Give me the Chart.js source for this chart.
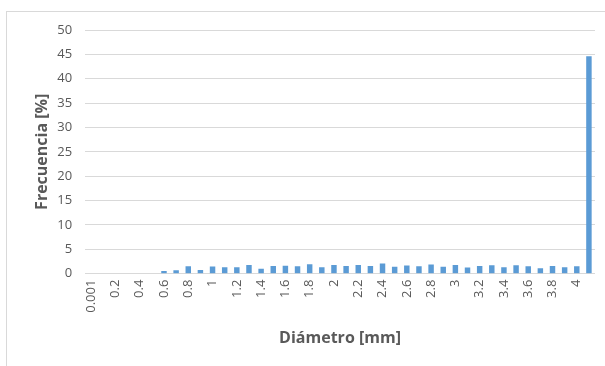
<!DOCTYPE html>
<html>
<head>
<meta charset="utf-8">
<script src="https://cdn.jsdelivr.net/npm/chart.js@4/dist/chart.umd.min.js"></script>
<style>
  html, body { margin: 0; padding: 0; background: #fff; overflow: hidden; }
  #frame { position: absolute; left: 6px; top: 11px; width: 640px; height: 400px;
           border-left: 1px solid #d9d9d9; border-top: 1px solid #d9d9d9; }
  #wrap { position: absolute; left: 0; top: 0; width: 605px; height: 366px; }
</style>
</head>
<body>
<div id="frame"></div>
<div id="wrap"><canvas id="c" width="605" height="366"></canvas></div>
<script>
// Diameter classes (mm) and frequency of each class (%)
const categories = ["0.001", "0.1", "0.2", "0.3", "0.4", "0.5", "0.6", "0.7", "0.8", "0.9",
  "1", "1.1", "1.2", "1.3", "1.4", "1.5", "1.6", "1.7", "1.8", "1.9",
  "2", "2.1", "2.2", "2.3", "2.4", "2.5", "2.6", "2.7", "2.8", "2.9",
  "3", "3.1", "3.2", "3.3", "3.4", "3.5", "3.6", "3.7", "3.8", "3.9",
  "4", "4.1"];
const frecuencia = [0, 0, 0, 0, 0, 0, 0.55, 0.7, 1.5, 0.75,
  1.45, 1.3, 1.3, 1.75, 1.0, 1.55, 1.6, 1.5, 1.95, 1.3,
  1.75, 1.55, 1.75, 1.55, 2.1, 1.4, 1.65, 1.5, 1.9, 1.4,
  1.75, 1.25, 1.55, 1.7, 1.3, 1.7, 1.5, 1.1, 1.55, 1.3,
  1.5, 44.6];
const yTicks = [0, 5, 10, 15, 20, 25, 30, 35, 40, 45, 50];

const gray = "#595959";
const font = "'Open Sans', sans-serif";

new Chart(document.getElementById("c"), {
  type: "bar",
  data: {
    labels: categories,
    datasets: [{
      data: frecuencia,
      backgroundColor: "#5b9bd5",
      borderWidth: 0,
      categoryPercentage: 1.0,
      barPercentage: 0.45
    }]
  },
  options: {
    responsive: false,
    animation: false,
    layout: { padding: { left: 33, right: 10, top: 30, bottom: 18 } },
    plugins: { legend: { display: false }, tooltip: { enabled: false } },
    scales: {
      x: {
        // the rotated labels need no extra room on the right
        afterFit: function (axis) { axis.paddingRight = 0; },
        grid: { display: false, drawTicks: false },
        border: { display: false },
        ticks: {
          autoSkip: false,
          maxRotation: 90,
          minRotation: 90,
          padding: 6,
          color: gray,
          font: { family: font, size: 13 },
          callback: function (v, i) { return i % 2 === 0 ? categories[i] : ""; }
        },
        title: {
          display: true,
          text: "Diámetro [mm]",
          color: gray,
          font: { family: font, size: 16, weight: "bold" },
          padding: { top: 10, bottom: 0 }
        }
      },
      y: {
        min: 0,
        max: 50,
        afterBuildTicks: function (axis) { axis.ticks = yTicks.map(v => ({ value: v })); },
        grid: { color: "#d9d9d9", drawTicks: false },
        border: { display: false },
        ticks: {
          padding: 13,
          color: gray,
          font: { family: font, size: 13 }
        },
        title: {
          display: true,
          text: "Frecuencia [%]",
          color: gray,
          font: { family: font, size: 16, weight: "bold" },
          padding: { top: 0, bottom: -8 }
        }
      }
    }
  }
});
</script>
</body>
</html>
